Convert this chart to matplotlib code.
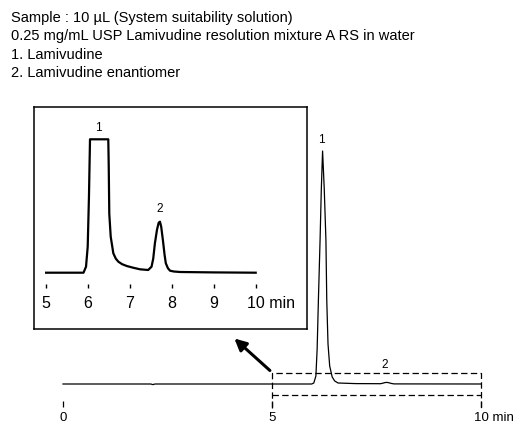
import matplotlib
matplotlib.use('Agg')
from matplotlib import pyplot as plt
from matplotlib import transforms
import numpy as np

plt.rcParams['font.family'] = ['Liberation Sans', 'DejaVu Sans']
plt.rcParams['lines.scale_dashes'] = False

# Header text
header = ['Sample : 10 \u00b5L (System suitability solution)',
          '0.25 mg/mL USP Lamivudine resolution mixture A RS in water',
          '1. Lamivudine',
          '2. Lamivudine enantiomer']

# Full chromatogram (time in min, signal in arbitrary units)
main_t = [0.0, 2.10, 2.15, 2.20, 5.95, 6.00, 6.05, 6.08, 6.11, 6.15, 6.18,
          6.21, 6.25, 6.29, 6.31, 6.34, 6.38, 6.44, 6.50, 6.58, 7.00, 7.60,
          7.66, 7.70, 7.75, 7.80, 7.86, 7.92, 10.0]
main_y = [0.0, 0.0, -0.6, 0.0, 0.0, 1.0, 8.0, 35.0, 84.0, 144.0, 195.0,
          233.0, 195.0, 144.0, 84.0, 40.0, 18.0, 7.0, 3.0, 1.0, 0.4, 0.3,
          0.9, 1.4, 1.6, 1.2, 0.5, 0.1, 0.0]
main_ticks = [0, 5, 10]
main_peaks = {'1': (6.19, 244), '2': (7.70, 19)}

# Expanded view 5-10 min (top of peak 1 is off scale)
zoom_t = [5.01, 5.90, 5.96, 6.00, 6.03, 6.055, 6.49, 6.50, 6.514, 6.548,
          6.61, 6.67, 6.73, 6.82, 6.93, 7.08, 7.245, 7.44, 7.52, 7.56,
          7.60, 7.65, 7.69, 7.72, 7.75, 7.79, 7.83, 7.86, 7.91, 7.96,
          8.05, 8.20, 9.0, 10.0]
zoom_y = [0.0, 0.0, 6.0, 26.0, 76.0, 133.4, 133.4, 109.0, 59.0, 36.0,
          19.4, 14.0, 11.0, 8.5, 6.7, 5.0, 3.4, 2.7, 6.0, 14.0,
          29.4, 43.0, 50.0, 51.0, 46.0, 32.7, 18.0, 9.4, 4.5, 2.0,
          1.2, 0.7, 0.3, 0.0]
zoom_ticks = [5, 6, 7, 8, 9, 10]
zoom_peaks = {'1': (6.25, 144.7), '2': (7.72, 63.7)}
zoom_range = (5, 10)

fig = plt.figure(figsize=(5.13, 4.24), dpi=100)

# main chromatogram, axes fill the figure (1 unit = 1 px vertically)
ax = fig.add_axes([0, 0, 1, 1])
ax.set_xlim(-63 / 41.8, 450 / 41.8)
ax.set_ylim(-40, 384)
ax.axis('off')
ax.plot(main_t, main_y, color='black', lw=0.9)

for i, line in enumerate(header):
    fig.text(11 / 513, 1 - (18 + 18.4 * i) / 424, line, fontsize=10.5,
             ha='left', va='center')

for k, (t, y) in main_peaks.items():
    ax.text(t, y, k, fontsize=8.5, ha='center', va='center')

ax.vlines(main_ticks, -16.7, -22.7, color='black', lw=0.9)
for t in main_ticks[:-1]:
    ax.text(t, -34, str(t), fontsize=9.5, ha='center', va='center')
off = transforms.offset_copy(ax.transData, fig=fig, x=-5.3, y=0, units='points')
ax.text(main_ticks[-1], -34, str(main_ticks[-1]) + ' min', fontsize=9.5,
        ha='left', va='center', transform=off)

# dashed box around expanded region
z0, z1 = zoom_range
ax.plot([z0, z0, z1, z1], [-24, 11, 11, -24], color='black', lw=0.9,
        dashes=(4.6, 2.4))
ax.plot([z0, z1], [-11.3, -11.3], color='black', lw=0.9, dashes=(4.6, 2.4))

ax.annotate('', xy=(4.10, 45.5), xytext=(4.95, 13.5),
            arrowprops=dict(arrowstyle='-|>,head_length=0.7,head_width=0.35',
                            color='black', lw=2.2, shrinkA=0, shrinkB=0))

# inset with expanded view
axi = fig.add_axes([34 / 513, (424 - 329) / 424, 273 / 513, 222 / 424])
axi.set_xlim(5 - 11.7 / 42, 5 + (273 - 11.7) / 42)
axi.set_ylim(-56.3, 165.7)
axi.set_xticks([])
axi.set_yticks([])
for s in axi.spines.values():
    s.set_linewidth(1.1)
axi.plot(zoom_t, zoom_y, color='black', lw=1.6)

for k, (t, y) in zoom_peaks.items():
    axi.text(t, y, k, fontsize=8.5, ha='center', va='center')

axi.vlines(zoom_ticks, -11.3, -15.3, color='black', lw=1.0)
for t in zoom_ticks[:-1]:
    axi.text(t, -31.3, str(t), fontsize=11.5, ha='center', va='center')
offi = transforms.offset_copy(axi.transData, fig=fig, x=-6.4, y=0, units='points')
axi.text(zoom_ticks[-1], -31.3, str(zoom_ticks[-1]) + ' min', fontsize=11.5,
         ha='left', va='center', transform=offi)

fig.savefig('out.png', dpi=100)
